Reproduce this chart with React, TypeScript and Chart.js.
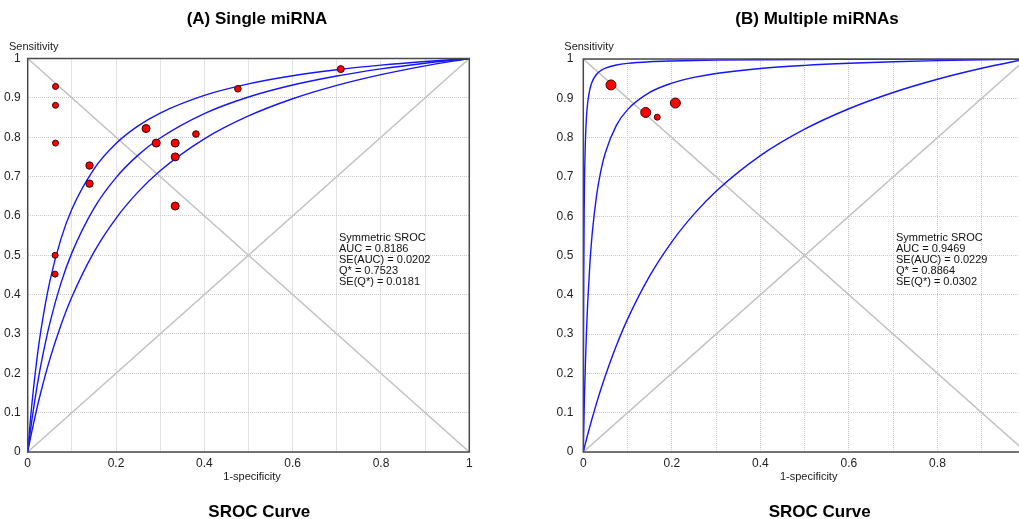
import React, { useEffect, useRef } from "react";
import { Chart, registerables } from "chart.js";

Chart.register(...registerables);

const FONT = '"Liberation Sans", Arial, Helvetica, sans-serif';

// ---------- Panel A: single miRNA ----------
const studyFprA = [0.063, 0.063, 0.063, 0.062, 0.062, 0.14, 0.14, 0.268, 0.291, 0.334, 0.334, 0.334, 0.381, 0.476, 0.709];
const studySensA = [0.929, 0.881, 0.785, 0.5, 0.452, 0.728, 0.682, 0.822, 0.785, 0.785, 0.75, 0.625, 0.808, 0.923, 0.973];
const studyWeightA = [36, 36, 36, 36, 36, 55, 55, 64, 64, 64, 64, 64, 44, 44, 49];

const fprGridA = [0, 0.005, 0.01, 0.02, 0.03, 0.05, 0.075, 0.1, 0.15, 0.2, 0.25, 0.3, 0.4, 0.5, 0.6, 0.7, 0.8, 0.9, 1];
const srocUpperA = [0, 0.0679, 0.1278, 0.2283, 0.3096, 0.4328, 0.5404, 0.617, 0.719, 0.7838, 0.8286, 0.8614, 0.9063, 0.9355, 0.956, 0.9713, 0.9831, 0.9924, 1];
const srocA = [0, 0.0443, 0.0852, 0.1584, 0.2219, 0.3267, 0.4278, 0.506, 0.6193, 0.6974, 0.7545, 0.798, 0.8601, 0.9022, 0.9326, 0.9556, 0.9736, 0.9881, 1];
const srocLowerA = [0, 0.0286, 0.0558, 0.1067, 0.1532, 0.2354, 0.3217, 0.3939, 0.508, 0.5939, 0.661, 0.7149, 0.7959, 0.854, 0.8977, 0.9317, 0.959, 0.9814, 1];
const statsA = ["Symmetric SROC", "AUC = 0.8186", "SE(AUC) = 0.0202", "Q* = 0.7523", "SE(Q*) = 0.0181"];

// ---------- Panel B: multiple miRNAs ----------
const studyFprB = [0.0625, 0.141, 0.167, 0.208];
const studySensB = [0.934, 0.864, 0.852, 0.888];
const studyWeightB = [100, 100, 36, 100];

const fprGridB = [0, 0.0005, 0.001, 0.002, 0.003, 0.005, 0.0075, 0.01, 0.015, 0.02, 0.03, 0.04, 0.05, 0.075, 0.1, 0.15, 0.2, 0.25, 0.3, 0.4, 0.5, 0.6, 0.7, 0.8, 0.9, 1];
const srocUpperB = [0, 0.2858, 0.4447, 0.6159, 0.7065, 0.8008, 0.8581, 0.8899, 0.9241, 0.9423, 0.9612, 0.9709, 0.9768, 0.9848, 0.9889, 0.993, 0.995, 0.9963, 0.9971, 0.9981, 0.9988, 0.9992, 0.9995, 0.9997, 0.9999, 1];
const srocB = [0, 0.0296, 0.0575, 0.1088, 0.1549, 0.2343, 0.3152, 0.3809, 0.4812, 0.5541, 0.6532, 0.7173, 0.7622, 0.8316, 0.8712, 0.9149, 0.9384, 0.9531, 0.9631, 0.976, 0.9838, 0.9892, 0.993, 0.9959, 0.9982, 1];
const srocLowerB = [0, 0.0023, 0.0046, 0.0091, 0.0137, 0.0226, 0.0336, 0.0444, 0.0655, 0.0858, 0.1245, 0.1608, 0.1949, 0.2717, 0.3382, 0.4481, 0.5349, 0.6053, 0.6635, 0.7541, 0.8214, 0.8734, 0.9148, 0.9485, 0.9764, 1];
const statsB = ["Symmetric SROC", "AUC = 0.9469", "SE(AUC) = 0.0229", "Q* = 0.8864", "SE(Q*) = 0.0302"];

// reference diagonals
const diagX = [0, 1];
const diagUp = [0, 1];
const diagDown = [1, 0];

const xAxisTitle = "1-specificity";
const yAxisTitle = "Sensitivity";
const caption = "SROC Curve";

type PanelSpec = {
  title: string;
  cssLeft: number;
  width: number;
  pad: { left: number; right: number; top: number; bottom: number };
  yTickPad: number;
  titleX: number;
  captionX: number;
  sensX: number;
  specX: number;
  statsX: number;
  stats: string[];
  fpr: number[];
  sens: number[];
  weight: number[];
  grid: number[];
  upper: number[];
  mid: number[];
  lower: number[];
};

const toPts = (xs: number[], ys: number[]) => xs.map((x, i) => ({ x, y: ys[i] }));
const tenth = (v: number) => String(Math.round(v * 10) / 10);

function makeOverlay(spec: PanelSpec) {
  return {
    id: "overlay",
    afterDraw(chart: any) {
      const { ctx, chartArea: a } = chart;
      ctx.save();
      ctx.strokeStyle = "#4a4a4a";
      ctx.lineWidth = 1.5;
      ctx.strokeRect(a.left, a.top, a.right - a.left, a.bottom - a.top);

      ctx.fillStyle = "#000";
      ctx.textBaseline = "alphabetic";
      ctx.textAlign = "center";
      ctx.font = `bold 17px ${FONT}`;
      ctx.fillText(spec.title, spec.titleX, 24);
      ctx.fillText(caption, spec.captionX, 516.5);

      ctx.font = `11px ${FONT}`;
      ctx.fillStyle = "#1a1a1a";
      ctx.textAlign = "left";
      ctx.fillText(yAxisTitle, spec.sensX, 49.5);
      ctx.textAlign = "center";
      ctx.fillText(xAxisTitle, spec.specX, 480);

      ctx.textAlign = "left";
      ctx.fillStyle = "#111";
      spec.stats.forEach((s, i) => ctx.fillText(s, spec.statsX, 240.5 + 11 * i));
      ctx.restore();
    },
  };
}

function Panel({ spec }: { spec: PanelSpec }) {
  const ref = useRef<HTMLCanvasElement>(null);
  useEffect(() => {
    if (!ref.current) return;
    const gridOpts = { color: "#c9c9c9", lineWidth: 1, drawTicks: false };
    const borderOpts = { display: false, dash: [1, 1] };
    const tickFont = { family: FONT, size: 12 };
    const curve = (ys: number[]) => ({
      type: "line" as const,
      data: toPts(spec.grid, ys),
      borderColor: "#1515ff",
      borderWidth: 1.4,
      pointRadius: 0,
      fill: false,
      cubicInterpolationMode: "monotone" as const,
      order: 1,
    });
    const chart = new Chart(ref.current, {
      type: "scatter",
      data: {
        datasets: [
          {
            type: "scatter",
            data: toPts(spec.fpr, spec.sens),
            pointRadius: spec.weight.map((w) => Math.sqrt(w) / 2),
            backgroundColor: "#ff0000",
            borderColor: "#3a0000",
            borderWidth: 1,
            order: 0,
          } as any,
          curve(spec.upper),
          curve(spec.mid),
          curve(spec.lower),
          {
            type: "line",
            data: toPts(diagX, diagUp),
            borderColor: "#c2c2c2",
            borderWidth: 1.5,
            pointRadius: 0,
            order: 2,
          },
          {
            type: "line",
            data: toPts(diagX, diagDown),
            borderColor: "#c2c2c2",
            borderWidth: 1.5,
            pointRadius: 0,
            order: 2,
          },
        ],
      },
      options: {
        responsive: false,
        animation: false,
        layout: { padding: spec.pad },
        plugins: {
          legend: { display: false },
          tooltip: { enabled: false },
          title: { display: false },
        },
        scales: {
          x: {
            type: "linear",
            min: 0,
            max: 1,
            afterFit: (s: any) => {
              s.height = 30;
            },
            grid: gridOpts,
            border: borderOpts,
            ticks: {
              stepSize: 0.1,
              autoSkip: false,
              maxRotation: 0,
              padding: 4,
              color: "#222",
              font: tickFont,
              callback: (v: any) => (Math.round(Number(v) * 10) % 2 === 0 ? tenth(Number(v)) : ""),
            },
          },
          y: {
            type: "linear",
            min: 0,
            max: 1,
            afterFit: (s: any) => {
              s.width = 27.7;
            },
            grid: gridOpts,
            border: borderOpts,
            ticks: {
              stepSize: 0.1,
              autoSkip: false,
              padding: spec.yTickPad,
              color: "#222",
              font: tickFont,
              callback: (v: any) => tenth(Number(v)),
            },
          },
        },
      } as any,
      plugins: [makeOverlay(spec)],
    });
    return () => chart.destroy();
  }, []);
  return (
    <canvas
      ref={ref}
      width={spec.width}
      height={519}
      style={{ position: "absolute", left: spec.cssLeft, top: 0, width: spec.width, height: 519 }}
    />
  );
}

const panelA: PanelSpec = {
  title: "(A) Single miRNA",
  cssLeft: 0,
  width: 520,
  pad: { left: 0, right: 50.7, top: 58.5, bottom: 37 },
  yTickPad: 7,
  titleX: 257,
  captionX: 259.3,
  sensX: 9,
  specX: 252,
  statsX: 339,
  stats: statsA,
  fpr: studyFprA,
  sens: studySensA,
  weight: studyWeightA,
  grid: fprGridA,
  upper: srocUpperA,
  mid: srocA,
  lower: srocLowerA,
};

const panelB: PanelSpec = {
  title: "(B) Multiple miRNAs",
  cssLeft: 510,
  width: 530,
  pad: { left: 45.6, right: 14, top: 59, bottom: 37 },
  yTickPad: 10,
  titleX: 307,
  captionX: 309.7,
  sensX: 54.3,
  specX: 298.7,
  statsX: 386,
  stats: statsB,
  fpr: studyFprB,
  sens: studySensB,
  weight: studyWeightB,
  grid: fprGridB,
  upper: srocUpperB,
  mid: srocB,
  lower: srocLowerB,
};

export default function App() {
  return (
    <div
      style={{
        position: "fixed",
        left: 0,
        top: 0,
        width: 1019,
        height: 519,
        overflow: "hidden",
        background: "#fff",
      }}
    >
      <Panel spec={panelA} />
      <Panel spec={panelB} />
    </div>
  );
}
